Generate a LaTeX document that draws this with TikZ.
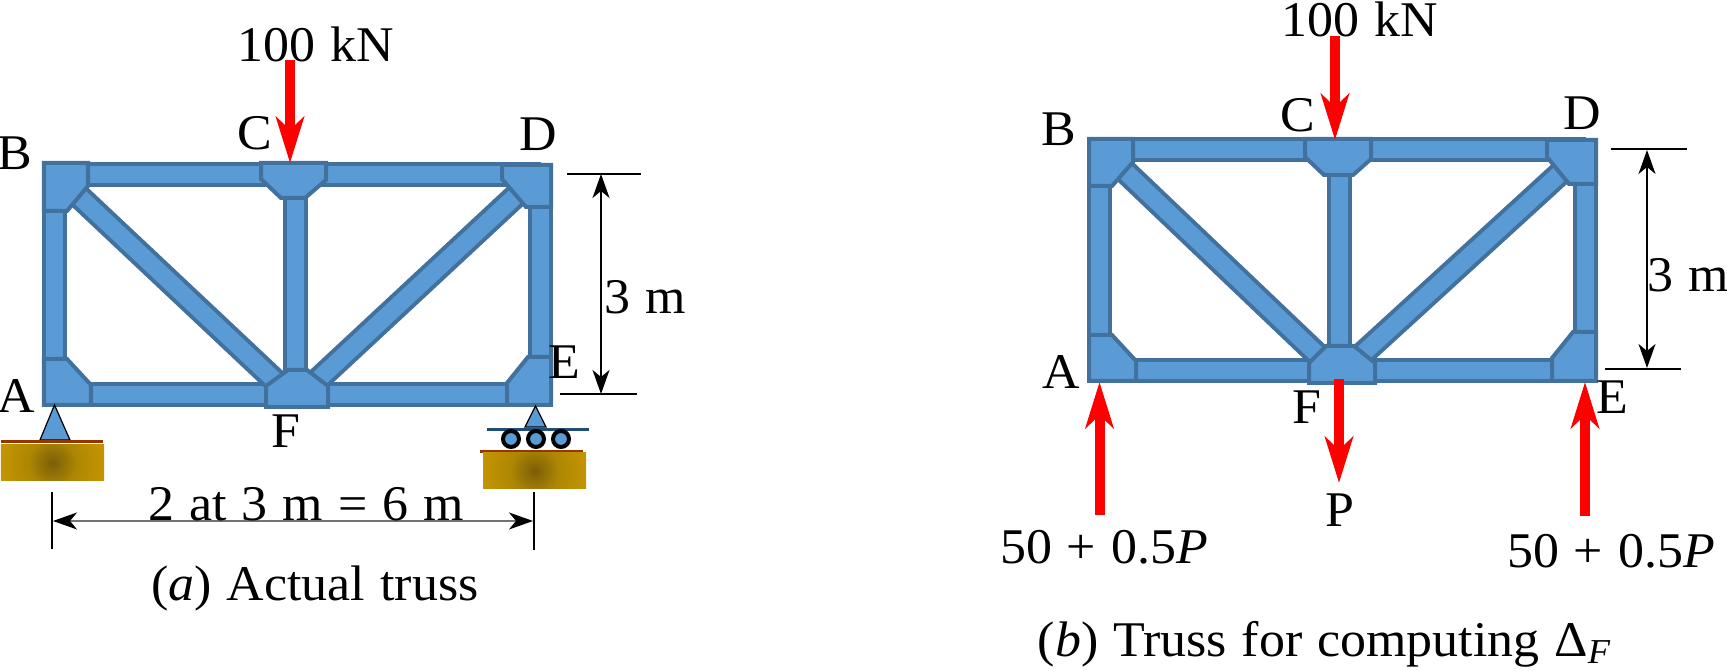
\documentclass[tikz,border=0pt]{standalone}
\usepackage{fontspec}
\setmainfont[FakeStretch=1.04, WordSpace=1.15]{Liberation Serif}
\usetikzlibrary{arrows.meta}
\definecolor{steelfill}{HTML}{5B9BD5}
\definecolor{steeldraw}{HTML}{41719C}
\definecolor{groundlight}{HTML}{DBA400}
\definecolor{groundmid}{HTML}{AD8603}
\definecolor{grounddark}{HTML}{7A5F08}
\definecolor{groundline}{HTML}{993300}
\definecolor{rollerline}{HTML}{1F4E79}
\pgfdeclareradialshading{groundglow}{\pgfpoint{0bp}{0bp}}{
  color(0bp)=(grounddark); color(10bp)=(groundmid);
  color(34bp)=(groundlight); color(50bp)=(groundlight)}
\begin{document}
\begin{tikzpicture}[
  x = 0.01cm,
  y = -0.01cm,
  every node/.style = {
    inner sep = 0pt,
    font = \fontsize{14.2}{17}\selectfont,
  },
  member/.style = {
    draw = steeldraw,
    line width = 0.4mm,
    double = steelfill,
    double distance = 1.7mm,
  },
  gusset/.style = {
    draw = steeldraw,
    fill = steelfill,
    line width = 0.4mm,
    line join = miter,
  },
  load/.style = {
    draw = red,
    line width = 1mm,
    -{Stealth[length = 4.6mm, width = 2.8mm, inset = 1.3mm]},
  },
  dimension/.style = {
    line width = 0.15mm,
    {Stealth[length = 2.4mm, width = 1.7mm, inset = 0.7mm, color = black]}-{Stealth[length = 2.4mm, width = 1.7mm, inset = 0.7mm, color = black]},
  },
  witness/.style = {
    draw = black,
    line width = 0.15mm,
  },
  pinbase/.style = {
    draw = black,
    fill = steelfill,
    line width = 0.12mm,
  },
  roller/.style = {
    draw = black,
    fill = steelfill,
    line width = 0.4mm,
  },
  topline/.style = {
    draw = groundline,
    line width = 0.3mm,
  },
]
  \useasboundingbox (0, 0) rectangle (1727, 671);

  \coordinate (aA) at (54.5, 395);
  \coordinate (aB) at (54.5, 175);
  \coordinate (aC) at (295.5, 175);
  \coordinate (aD) at (540.5, 175);
  \coordinate (aE) at (540.5, 395);
  \coordinate (aF) at (295.5, 395);
  \coordinate (aBd) at (76, 193.5);
  \coordinate (aFl) at (277, 382.5);
  \coordinate (aDd) at (521, 191);
  \coordinate (aFr) at (315, 382.5);

  \coordinate (bA) at (1099.5, 370.5);
  \coordinate (bB) at (1099.5, 150);
  \coordinate (bC) at (1339.5, 150);
  \coordinate (bD) at (1585.5, 150);
  \coordinate (bE) at (1585.5, 370.5);
  \coordinate (bF) at (1339.5, 370.5);
  \coordinate (bBd) at (1121, 167.5);
  \coordinate (bFl) at (1321, 358);
  \coordinate (bDd) at (1566, 168);
  \coordinate (bFr) at (1358, 358);

  \begin{scope}[every path/.style = {member}]
    \draw (aB) -- (aD);
    \draw (aA) -- (aE);
    \draw (aA) -- (aB);
    \draw (aE) -- (aD);
    \draw (aC) -- (aF);
    \draw (aBd) -- (aFl);
    \draw (aDd) -- (aFr);

    \draw (bB) -- (bD);
    \draw (bA) -- (bE);
    \draw (bA) -- (bB);
    \draw (bE) -- (bD);
    \draw (bC) -- (bF);
    \draw (bBd) -- (bFl);
    \draw (bDd) -- (bFr);
  \end{scope}

  \draw[gusset] (44, 163) -- (88, 163) -- (88, 186) -- (67, 211) -- (44, 211) -- cycle;
  \draw[gusset] (44, 359) -- (67, 359) -- (91, 385) -- (91, 405) -- (44, 405) -- cycle;
  \draw[gusset] (261, 163) -- (326, 163) -- (326, 180) -- (305, 198) -- (281, 198) -- (261, 179) -- cycle;
  \draw[gusset] (266, 386) -- (288, 370) -- (307, 370) -- (328, 386) -- (328, 407) -- (266, 407) -- cycle;
  \draw[gusset] (502, 165) -- (551, 165) -- (551, 207) -- (526, 207) -- (502, 179) -- cycle;
  \draw[gusset] (528, 357) -- (551, 357) -- (551, 405) -- (507, 405) -- (507, 383) -- cycle;

  \draw[gusset] (1089, 139) -- (1133, 139) -- (1133, 162) -- (1112, 186) -- (1089, 186) -- cycle;
  \draw[gusset] (1089, 335) -- (1112, 335) -- (1136, 361) -- (1136, 381) -- (1089, 381) -- cycle;
  \draw[gusset] (1305, 139) -- (1371, 139) -- (1371, 159) -- (1353, 175) -- (1324, 175) -- (1305, 157) -- cycle;
  \draw[gusset] (1309, 363) -- (1326, 346) -- (1354, 346) -- (1375, 363) -- (1375, 383) -- (1309, 383) -- cycle;
  \draw[gusset] (1547, 140) -- (1596, 140) -- (1596, 184) -- (1569, 184) -- (1547, 157) -- cycle;
  \draw[gusset] (1573, 332) -- (1596, 332) -- (1596, 381) -- (1552, 381) -- (1552, 358) -- cycle;

  \draw[pinbase] (54.5, 405) -- (70, 440) -- (40, 440) -- cycle;
  \draw[topline] (1, 441.5) -- (103, 441.5);
  \begin{scope}
    \clip (1, 445) rectangle (104, 481);
    \shade[shading = groundglow] (52.5, 463) circle (60);
  \end{scope}

  \draw[pinbase] (535.5, 406) -- (546, 427) -- (525, 427) -- cycle;
  \draw[draw = rollerline, line width = 0.3mm] (487, 430) -- (589, 430);
  \draw[roller] (511, 439) circle (8);
  \draw[roller] (536, 439) circle (8);
  \draw[roller] (561, 439) circle (8);
  \draw[topline] (480, 452) -- (583, 452);
  \begin{scope}
    \clip (483, 453) rectangle (586, 489);
    \shade[shading = groundglow] (534.5, 471) circle (60);
  \end{scope}

  \coordinate (aLoadTail) at (290, 60);
  \coordinate (aLoadTip) at (290, 163);
  \draw[load] (aLoadTail) -- (aLoadTip);

  \coordinate (bLoadTail) at (1335, 36);
  \coordinate (bLoadTip) at (1335, 140);
  \draw[load] (bLoadTail) -- (bLoadTip);
  \coordinate (bPullTail) at (1339, 379);
  \coordinate (bPullTip) at (1339, 483);
  \draw[load] (bPullTail) -- (bPullTip);
  \coordinate (bLeftTail) at (1099.5, 515);
  \coordinate (bLeftTip) at (1099.5, 382);
  \draw[load] (bLeftTail) -- (bLeftTip);
  \coordinate (bRightTail) at (1585, 516);
  \coordinate (bRightTip) at (1585, 382);
  \draw[load] (bRightTail) -- (bRightTip);

  \coordinate (aTopStart) at (567, 174);
  \coordinate (aTopEnd) at (641, 174);
  \coordinate (aLowStart) at (560, 394);
  \coordinate (aLowEnd) at (637, 394);
  \draw[witness] (aTopStart) -- (aTopEnd);
  \draw[witness] (aLowStart) -- (aLowEnd);
  \coordinate (aDimTop) at (601, 174);
  \coordinate (aDimLow) at (601, 394);
  \draw[dimension] (aDimTop) -- (aDimLow);

  \coordinate (aLeftStart) at (52, 492);
  \coordinate (aLeftEnd) at (52, 549);
  \coordinate (aRightStart) at (534, 492);
  \coordinate (aRightEnd) at (534, 550);
  \draw[witness] (aLeftStart) -- (aLeftEnd);
  \draw[witness] (aRightStart) -- (aRightEnd);
  \coordinate (aDimLeft) at (53, 521);
  \coordinate (aDimRight) at (533, 521);
  \draw[dimension, draw = black!55] (aDimLeft) -- (aDimRight);

  \coordinate (bTopStart) at (1611, 149);
  \coordinate (bTopEnd) at (1687, 149);
  \coordinate (bLowStart) at (1605, 369);
  \coordinate (bLowEnd) at (1681, 369);
  \draw[witness] (bTopStart) -- (bTopEnd);
  \draw[witness] (bLowStart) -- (bLowEnd);
  \coordinate (bDimTop) at (1647, 150);
  \coordinate (bDimLow) at (1647, 368);
  \draw[dimension] (bDimTop) -- (bDimLow);

  \node (aLoad) at (316, 44) {100 kN};
  \node (aLabelA) at (16, 396) {A};
  \node (aLabelB) at (15, 153) {B};
  \node (aLabelC) at (255, 133) {C};
  \node (aLabelD) at (538, 134) {D};
  \node (aLabelE) at (564, 362) {E};
  \node (aLabelF) at (286, 431) {F};
  \node (aHeight) at (645, 297) {3 m};
  \node (aSpan) at (306, 504) {2 at 3 m = 6 m};
  \node (aTitle) at (315, 589) {(\textit{a}) Actual truss};

  \node (bLoad) at (1360, 19) {100 kN};
  \node (bLabelA) at (1061, 372) {A};
  \node (bLabelB) at (1059, 129) {B};
  \node (bLabelC) at (1298, 115) {C};
  \node (bLabelD) at (1582, 113) {D};
  \node (bLabelE) at (1612, 397) {E};
  \node (bLabelF) at (1307, 407) {F};
  \node (bLabelP) at (1340, 510) {P};
  \node (bHeight) at (1688, 275) {3 m};
  \node (bLeftForce) at (1104, 547) {50 + 0.5\textit{P}};
  \node (bRightForce) at (1611, 551) {50 + 0.5\textit{P}};
  \node (bTitle) at (1325, 644) {(\textit{b}) Truss for computing Δ\textsubscript{\textit{F}}};
\end{tikzpicture}
\end{document}
